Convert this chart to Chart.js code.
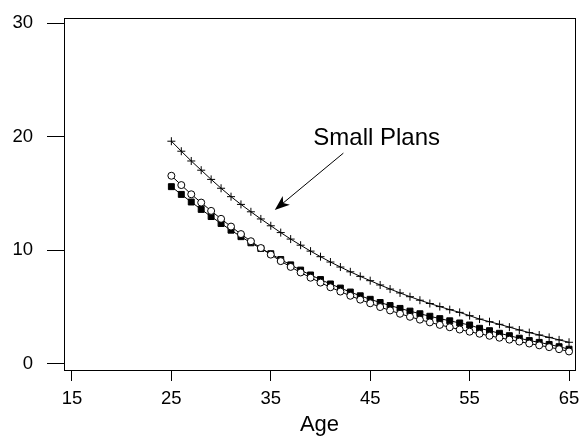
<!DOCTYPE html>
<html lang="en">
<head>
    <meta charset="UTF-8">
    <title>Small Plans by Age</title>
    <script src="https://cdn.jsdelivr.net/npm/chart.js"></script>
    <style>
        html, body { margin: 0; padding: 0; background: #fff; }
        #wrap { width: 583px; height: 438px; }
    </style>
</head>
<body>
<div id="wrap"><canvas id="age-chart" width="583" height="438"></canvas></div>

<script>
    const ages = [25, 26, 27, 28, 29, 30, 31, 32, 33, 34, 35,
        36, 37, 38, 39, 40, 41, 42, 43, 44, 45,
        46, 47, 48, 49, 50, 51, 52, 53, 54, 55,
        56, 57, 58, 59, 60, 61, 62, 63, 64, 65];

    // small plans (plus markers)
    const smallPlans = [19.6, 18.72, 17.86, 17.05, 16.24, 15.46, 14.72, 14.04, 13.39, 12.76, 12.16,
        11.56, 10.99, 10.45, 9.93, 9.44, 8.97, 8.53, 8.11, 7.71, 7.33,
        6.95, 6.59, 6.25, 5.92, 5.61, 5.32, 5.05, 4.78, 4.54, 4.25,
        3.95, 3.72, 3.49, 3.24, 2.99, 2.76, 2.55, 2.34, 2.12, 1.91];

    // open circles
    const openSeries = [16.56, 15.74, 14.93, 14.2, 13.47, 12.77, 12.09, 11.43, 10.8, 10.2, 9.62,
        9.05, 8.54, 8.05, 7.59, 7.16, 6.75, 6.37, 6.0, 5.66, 5.34,
        5.01, 4.71, 4.42, 4.15, 3.9, 3.66, 3.44, 3.23, 3.03, 2.84,
        2.66, 2.48, 2.31, 2.14, 1.97, 1.8, 1.64, 1.48, 1.3, 1.1];

    // filled squares
    const filledSeries = [15.6, 14.92, 14.25, 13.6, 12.97, 12.36, 11.77, 11.2, 10.66, 10.16, 9.7,
        9.19, 8.72, 8.26, 7.83, 7.43, 7.04, 6.68, 6.33, 6.0, 5.69,
        5.41, 5.14, 4.89, 4.65, 4.42, 4.2, 3.99, 3.8, 3.61, 3.43,
        3.14, 2.93, 2.7, 2.49, 2.27, 2.06, 1.9, 1.72, 1.52, 1.3];

    const xTicks = [15, 25, 35, 45, 55, 65];
    const yTicks = [0, 10, 20, 30];

    const FONT = "'Liberation Sans', Arial, sans-serif";

    const toPoints = (vals) => vals.map((v, i) => ({ x: ages[i], y: v }));

    // keep the plot area fixed instead of letting edge labels push it in
    const noEdgePadding = s => {
        s.paddingTop = 0;
        s.paddingBottom = 0;
        s.paddingLeft = 0;
        s.paddingRight = 0;
    };

    // box around the plot area plus the labelled arrow
    const framePlugin = {
        id: 'frame',
        afterDraw(chart) {
            const { ctx, chartArea: a, scales } = chart;
            ctx.save();
            ctx.strokeStyle = '#000';
            ctx.lineWidth = 1;
            ctx.strokeRect(Math.round(a.left) + 0.5, Math.round(a.top) + 0.5,
                Math.round(a.right - a.left), Math.round(a.bottom - a.top));

            const px = v => scales.x.getPixelForValue(v);
            const py = v => scales.y.getPixelForValue(v);

            ctx.fillStyle = '#000';
            ctx.font = '24px ' + FONT;
            ctx.textAlign = 'center';
            ctx.textBaseline = 'alphabetic';
            ctx.fillText('Small Plans', px(45.65), py(19.26));

            const x0 = px(42.3), y0 = py(18.55);
            const x1 = px(35.4), y1 = py(13.55);
            const ang = Math.atan2(y1 - y0, x1 - x0);
            const len = 16, spread = 0.36;
            ctx.beginPath();
            ctx.moveTo(x0, y0);
            ctx.lineTo(x1 - Math.cos(ang) * 10, y1 - Math.sin(ang) * 10);
            ctx.stroke();
            ctx.beginPath();
            ctx.moveTo(x1, y1);
            ctx.lineTo(x1 - len * Math.cos(ang - spread), y1 - len * Math.sin(ang - spread));
            ctx.lineTo(x1 - 11 * Math.cos(ang), y1 - 11 * Math.sin(ang));
            ctx.lineTo(x1 - len * Math.cos(ang + spread), y1 - len * Math.sin(ang + spread));
            ctx.closePath();
            ctx.fill();
            ctx.restore();
        }
    };

    const ctx = document.getElementById('age-chart').getContext('2d');
    new Chart(ctx, {
        type: 'line',
        data: {
            datasets: [
                {
                    label: 'Small Plans',
                    data: toPoints(smallPlans),
                    borderColor: '#000',
                    borderWidth: 1,
                    pointStyle: 'cross',
                    pointRadius: 4,
                    pointBorderColor: '#000',
                    pointBorderWidth: 1,
                    tension: 0
                },
                {
                    label: 'Open',
                    data: toPoints(openSeries),
                    borderColor: '#000',
                    borderWidth: 1,
                    pointStyle: 'circle',
                    pointRadius: 3.5,
                    pointBackgroundColor: '#fff',
                    pointBorderColor: '#000',
                    pointBorderWidth: 1,
                    tension: 0
                },
                {
                    label: 'Filled',
                    data: toPoints(filledSeries),
                    borderColor: '#000',
                    borderWidth: 1,
                    pointStyle: 'rect',
                    pointRadius: 4.2,
                    pointBackgroundColor: '#000',
                    pointBorderColor: '#000',
                    pointBorderWidth: 1,
                    tension: 0
                }
            ]
        },
        options: {
            responsive: false,
            animation: false,
            layout: { padding: { top: 18, right: 8, left: 0, bottom: 0 } },
            plugins: {
                legend: { display: false },
                tooltip: { enabled: false }
            },
            scales: {
                x: {
                    type: 'linear',
                    min: 14.2,
                    max: 65.6,
                    afterBuildTicks: s => { s.ticks = xTicks.map(v => ({ value: v })); },
                    afterFit: s => { s.height = 68; noEdgePadding(s); },
                    grid: { drawOnChartArea: false, drawTicks: true, tickLength: 11, color: '#000' },
                    border: { display: true, color: '#000' },
                    ticks: {
                        color: '#000',
                        font: { size: 18.5, family: FONT },
                        padding: 7,
                        maxRotation: 0,
                        autoSkip: false
                    },
                    title: {
                        display: true,
                        text: 'Age',
                        color: '#000',
                        font: { size: 22, family: FONT },
                        padding: { top: 0, bottom: 0 }
                    }
                },
                y: {
                    min: -0.53,
                    max: 30.44,
                    afterBuildTicks: s => { s.ticks = yTicks.map(v => ({ value: v })); },
                    afterFit: s => { s.width = 64; noEdgePadding(s); },
                    grid: { drawOnChartArea: false, drawTicks: true, tickLength: 17, color: '#000' },
                    border: { display: true, color: '#000' },
                    ticks: {
                        color: '#000',
                        font: { size: 18.5, family: FONT },
                        padding: 14
                    }
                }
            }
        },
        plugins: [framePlugin]
    });
</script>
</body>
</html>
